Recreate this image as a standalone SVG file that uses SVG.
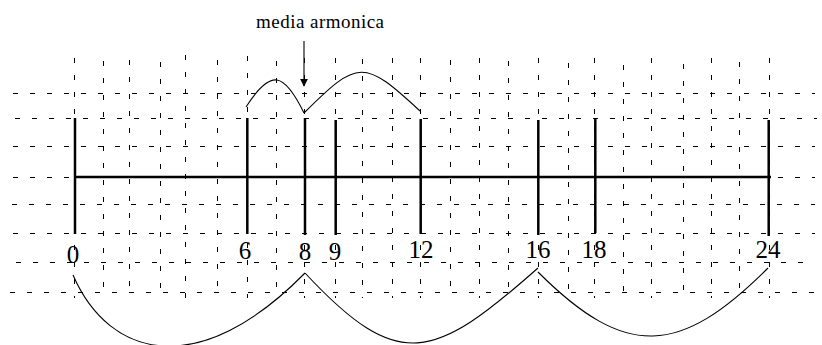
<svg xmlns="http://www.w3.org/2000/svg" width="822" height="345" viewBox="0 0 822 345">
<style>
.grid{stroke:#000;stroke-width:1;stroke-dasharray:5 12;fill:none;shape-rendering:crispEdges}
.tick{stroke:#000;stroke-width:2.5;fill:none}
.arc{stroke:#000;stroke-width:1.1;fill:none}
.num{font-family:'Liberation Serif',Times,serif;font-size:25px;fill:#000;text-anchor:middle}
.lbl{font-family:'Liberation Serif',Times,serif;font-size:19px;fill:#000}
</style>
<defs>
<marker id="ah" viewBox="0 0 10 10" refX="9" refY="5" markerWidth="8" markerHeight="8" markerUnits="userSpaceOnUse" orient="auto">
<path d="M0,0 L10,5 L0,10 z" fill="#000"/>
</marker>
</defs>
<rect width="822" height="345" fill="#fff"/>
<g id="grid">
<line class="grid" x1="13" y1="93.5" x2="815" y2="93.5"/>
<line class="grid" x1="15" y1="118.5" x2="817" y2="118.5"/>
<line class="grid" x1="13" y1="146.5" x2="815" y2="146.5"/>
<line class="grid" x1="13" y1="177" x2="815" y2="177"/>
<line class="grid" x1="12" y1="204.5" x2="815" y2="204.5"/>
<line class="grid" x1="13" y1="233.5" x2="815" y2="233.5"/>
<line class="grid" x1="16" y1="262.5" x2="815" y2="262.5"/>
<line class="grid" x1="10" y1="292.5" x2="815" y2="292.5"/>
<line class="grid" x1="74.5" y1="58" x2="74.5" y2="298"/>
<line class="grid" x1="103.5" y1="61" x2="103.5" y2="298"/>
<line class="grid" x1="129.5" y1="60" x2="129.5" y2="298"/>
<line class="grid" x1="160.5" y1="62" x2="160.5" y2="298"/>
<line class="grid" x1="185.5" y1="55" x2="185.5" y2="298"/>
<line class="grid" x1="217.5" y1="60" x2="217.5" y2="298"/>
<line class="grid" x1="247.5" y1="56" x2="247.5" y2="298"/>
<line class="grid" x1="276.5" y1="61" x2="276.5" y2="298"/>
<line class="grid" x1="304.5" y1="58" x2="304.5" y2="298"/>
<line class="grid" x1="335.5" y1="58" x2="335.5" y2="298"/>
<line class="grid" x1="362.5" y1="59" x2="362.5" y2="298"/>
<line class="grid" x1="392.5" y1="58" x2="392.5" y2="298"/>
<line class="grid" x1="420.5" y1="58" x2="420.5" y2="298"/>
<line class="grid" x1="450.5" y1="60" x2="450.5" y2="298"/>
<line class="grid" x1="479.5" y1="58" x2="479.5" y2="298"/>
<line class="grid" x1="508.5" y1="61" x2="508.5" y2="298"/>
<line class="grid" x1="538.5" y1="58" x2="538.5" y2="298"/>
<line class="grid" x1="568.5" y1="63" x2="568.5" y2="298"/>
<line class="grid" x1="594.5" y1="58" x2="594.5" y2="298"/>
<line class="grid" x1="623.5" y1="65" x2="623.5" y2="298"/>
<line class="grid" x1="651.5" y1="58" x2="651.5" y2="298"/>
<line class="grid" x1="683.5" y1="64" x2="683.5" y2="298"/>
<line class="grid" x1="711.5" y1="58" x2="711.5" y2="298"/>
<line class="grid" x1="739.5" y1="62" x2="739.5" y2="298"/>
<line class="grid" x1="769.5" y1="58" x2="769.5" y2="298"/>
</g>
<g id="axis">
<line class="tick" x1="75" y1="177" x2="771" y2="177"/>
<line class="tick" x1="75" y1="118" x2="75" y2="234"/>
<line class="tick" x1="247.3" y1="118" x2="247.3" y2="234"/>
<line class="tick" x1="305" y1="118" x2="305" y2="235"/>
<line class="tick" x1="335.7" y1="120" x2="335.7" y2="235"/>
<line class="tick" x1="420.7" y1="119" x2="420.7" y2="234"/>
<line class="tick" x1="538.3" y1="120" x2="538.3" y2="235"/>
<line class="tick" x1="595.3" y1="118" x2="595.3" y2="233"/>
<line class="tick" x1="768.7" y1="120" x2="768.7" y2="236"/>
</g>
<g id="labels">
<text class="num" x="73" y="263">0</text>
<text class="num" x="245" y="259">6</text>
<text class="num" x="305" y="260">8</text>
<text class="num" x="335" y="260">9</text>
<text class="num" x="421" y="258">12</text>
<text class="num" x="538" y="258">16</text>
<text class="num" x="594" y="258">18</text>
<text class="num" x="768" y="258">24</text>
<text class="lbl" x="256" y="28" textLength="128" lengthAdjust="spacing">media armonica</text>
</g>
<g id="connectors">
<line class="arc" x1="304" y1="41" x2="304" y2="86" marker-end="url(#ah)"/>
<path class="arc" d="M246,107 C271,68 284,72 304,113"/>
<path class="arc" d="M304,113 C358,59 364,59 420,111"/>
<path class="arc" d="M73,275 C110,360 200,380 305,273"/>
<path class="arc" d="M305,273 C399,374 434,360 538,268"/>
<path class="arc" d="M538,272 C626,360 680,356 768,268"/>
</g>
</svg>
